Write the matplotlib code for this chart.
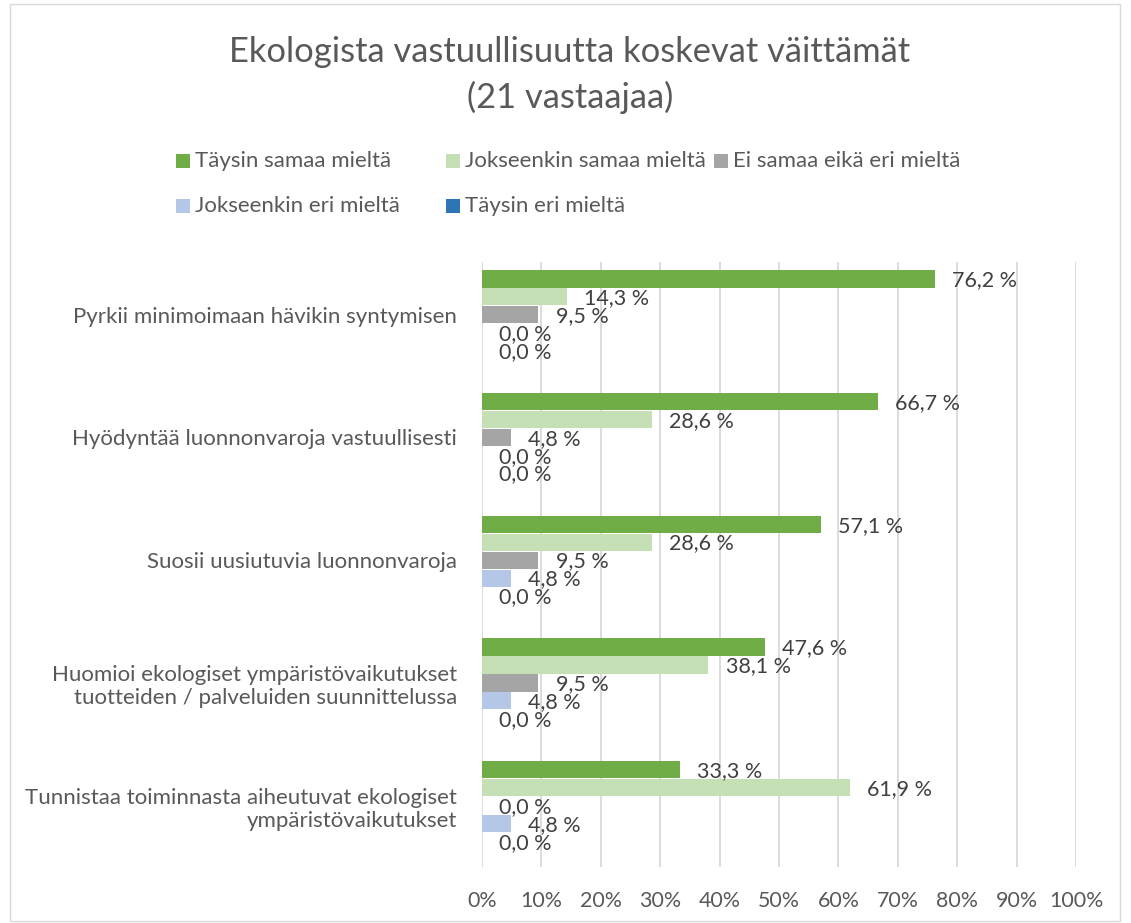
import matplotlib
matplotlib.use("Agg")
import matplotlib.pyplot as plt
from matplotlib.patches import Rectangle
import numpy as np

plt.rcParams['font.family'] = ['Lato', 'DejaVu Sans']

categories = [
    "Pyrkii minimoimaan hävikin syntymisen",
    "Hyödyntää luonnonvaroja vastuullisesti",
    "Suosii uusiutuvia luonnonvaroja",
    "Huomioi ekologiset ympäristövaikutukset\ntuotteiden / palveluiden suunnittelussa",
    "Tunnistaa toiminnasta aiheutuvat ekologiset\nympäristövaikutukset",
]
series_names = ["Täysin samaa mieltä", "Jokseenkin samaa mieltä", "Ei samaa eikä eri mieltä",
                "Jokseenkin eri mieltä", "Täysin eri mieltä"]
taysin_samaa = [76.2, 66.7, 57.1, 47.6, 33.3]
jokseenkin_samaa = [14.3, 28.6, 28.6, 38.1, 61.9]
ei_samaa_eika_eri = [9.5, 4.8, 9.5, 9.5, 0.0]
jokseenkin_eri = [0.0, 0.0, 4.8, 4.8, 4.8]
taysin_eri = [0.0, 0.0, 0.0, 0.0, 0.0]
series_values = [taysin_samaa, jokseenkin_samaa, ei_samaa_eika_eri, jokseenkin_eri, taysin_eri]
colors = ["#70AD47", "#C5E0B4", "#A5A5A5", "#B4C7E7", "#2E75B6"]
xticks = [0, 10, 20, 30, 40, 50, 60, 70, 80, 90, 100]

txt = "#595959"
fig = plt.figure(figsize=(11.31, 9.23), dpi=100)
W, H = 1131, 923
ax = fig.add_axes([482 / W, 1 - 867 / H, (1076 - 482) / W, (867 - 262) / H])

step = 0.146
bh = 0.14
y0 = np.arange(len(categories))
for i, (vals, c) in enumerate(zip(series_values, colors)):
    ypos = y0 + (i - 2) * step
    ax.barh(ypos, vals, height=bh, color=c, zorder=3)
    for y, v in zip(ypos, vals):
        ax.text(v + 2.9, y + 0.01, f"{v:.1f} %".replace(".", ","), va="center", ha="left",
                fontsize=15.5, color="#404040", zorder=4)

ax.set_xlim(0, 100)
ax.set_ylim(len(categories) - 0.5, -0.43)
ax.set_xticks(xticks)
ax.set_xticklabels([f"{t}%" for t in xticks], fontsize=15.4, color=txt)
ax.set_yticks(y0)
ax.set_yticklabels(categories, fontsize=16, color=txt)
ax.tick_params(axis="both", length=0)
ax.tick_params(axis="x", pad=17)
ax.tick_params(axis="y", pad=18)
ax.grid(axis="x", color="#D9D9D9", linewidth=1.3, zorder=0)
for s in ax.spines.values():
    s.set_visible(False)

fig.text(570 / W, 1 - 52 / H, "Ekologista vastuullisuutta koskevat väittämät", ha="center", va="center",
         fontsize=24.8, color=txt)
fig.text(570 / W, 1 - 97 / H, "(21 vastaajaa)", ha="center", va="center", fontsize=24.8, color=txt)

# legend
leg_pos = [(176, 161), (446, 161), (714, 161), (176, 206), (446, 206)]
for (lx, ly), name, c in zip(leg_pos, series_names, colors):
    fig.patches.append(Rectangle((lx / W, 1 - (ly + 7) / H), 14 / W, 14 / H, transform=fig.transFigure,
                                 facecolor=c, edgecolor="none"))
    fig.text((lx + 19) / W, 1 - ly / H, name, ha="left", va="center", fontsize=16, color=txt)

fig.patches.append(Rectangle((10 / W, 2 / H), 1110 / W, (H - 6) / H, transform=fig.transFigure,
                             facecolor="none", edgecolor="#D9D9D9", linewidth=1))

fig.savefig("out.png", dpi=100)
